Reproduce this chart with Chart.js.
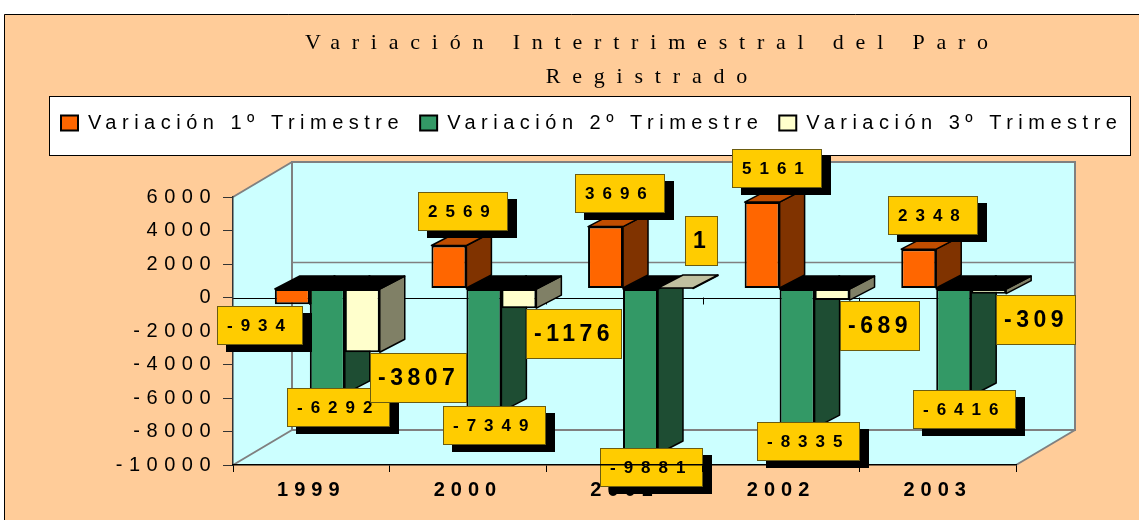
<!DOCTYPE html>
<html>
<head>
<meta charset="utf-8">
<script src="https://cdn.jsdelivr.net/npm/chart.js@4/dist/chart.umd.min.js"></script>
<style>
html,body{margin:0;padding:0;background:#fff;overflow:hidden}
canvas{display:block}
</style>
</head>
<body>
<canvas id="c" width="1139" height="520"></canvas>
<script>
// ---------- data ----------
const categories = ['1999', '2000', '2001', '2002', '2003'];
const seriesNames = ['Variación 1º Trimestre', 'Variación 2º Trimestre', 'Variación 3º Trimestre'];
const trimestre1 = [-934, 2569, 3696, 5161, 2348];
const trimestre2 = [-6292, -7349, -9881, -8335, -6416];
const trimestre3 = [-3807, -1176, 1, -689, -309];
const yAxisRange = { min: -10000, max: 6000, step: 2000 };
const titleLines = ['Variación Intertrimestral del Paro', 'Registrado'];

// ---------- styles ----------
const SANS = '"Liberation Sans", Arial, sans-serif';
const SERIF = '"Liberation Serif", "Times New Roman", serif';
const faceColors = [
  { front: '#FF6600', top: '#C04D00', side: '#803300' },
  { front: '#339966', top: '#1E4D33', side: '#1E4D33' },
  { front: '#FFFFCC', top: '#C0C0A0', side: '#808066' }
];
const WALL = { dx: 59, dy: -35 };
const SHIFT = { dx: 16, dy: -9 };
const DEPTH = { dx: 25, dy: -13 };
const LEGEND_H = 100;
const LEGEND_START = 61;
const TITLE_CENTER = 646.5;
const SP = { title: 11.8, legend: 5.5, yTicks: 6.5, xTicks: 6 };
const labelStyle = [
  { font: 'bold 17px ' + SANS, sp: 8, padX: 10, h: 39, shadow: true },
  { font: 'bold 17px ' + SANS, sp: 8, padX: 10, h: 39, shadow: true },
  { font: 'bold 23px ' + SANS, sp: 4.5, padX: 8, h: 50, shadow: false }
];

function placeLabel(di, v, r, w, h) {
  if (di === 0) {
    return v >= 0 ? { x: r.left - 13, y: r.top - 14 - h } : { x: r.left - 58, y: r.bottom + 2 };
  }
  if (di === 1) return { x: r.left - 23, y: r.bottom - 6 };
  return v > 0 ? { x: r.left + 27, y: r.top - 22 - h } : { x: r.left + 25, y: r.bottom + 1 };
}

function spaced(obj, name, sp) {
  const orig = obj && obj[name];
  if (!orig || orig.__spaced) return;
  const f = function (...a) {
    const ctx = this.ctx;
    const prev = ctx.letterSpacing;
    ctx.letterSpacing = sp + 'px';
    try { return orig.apply(this, a); } finally { ctx.letterSpacing = prev; }
  };
  f.__spaced = true;
  obj[name] = f;
}

function poly(ctx, pts, fill) {
  ctx.beginPath();
  pts.forEach((p, i) => i ? ctx.lineTo(p[0], p[1]) : ctx.moveTo(p[0], p[1]));
  ctx.closePath();
  ctx.fillStyle = fill;
  ctx.fill();
  ctx.stroke();
}

function drawFaces(chart, di) {
  const { ctx } = chart;
  const col = faceColors[di];
  const vals = chart.data.datasets[di].data;
  chart.getDatasetMeta(di).data.forEach((el, i) => {
    const { x, y, base, width } = el.getProps(['x', 'y', 'base', 'width'], true);
    const l = x - width / 2, r = x + width / 2, t = Math.min(y, base), b = Math.max(y, base);
    const neg = vals[i] < 0;
    ctx.save();
    ctx.lineWidth = 1.5; ctx.strokeStyle = '#000'; ctx.lineJoin = 'round';
    poly(ctx, [[r, t], [r + DEPTH.dx, t + DEPTH.dy], [r + DEPTH.dx, b + DEPTH.dy], [r, b]], col.side);
    poly(ctx, [[l, t], [r, t], [r + DEPTH.dx, t + DEPTH.dy], [l + DEPTH.dx, t + DEPTH.dy]], neg ? '#000' : col.top);
    ctx.restore();
  });
}

const paro3d = {
  id: 'paro3d',
  beforeLayout(chart) {
    const L = chart.legend;
    if (L && !L.__patched) {
      L.__patched = true;
      const fit = L.fit;
      L.fit = function (...a) {
        const ctx = this.ctx, prev = ctx.letterSpacing;
        ctx.letterSpacing = SP.legend + 'px';
        try { fit.apply(this, a); } finally { ctx.letterSpacing = prev; }
        this.height = LEGEND_H;
      };
      spaced(L, 'draw', SP.legend);
    }
    spaced(chart.titleBlock, 'draw', SP.title);
    spaced(chart.scales.y, 'drawLabels', SP.yTicks);
    spaced(chart.scales.x, 'drawLabels', SP.xTicks);
  },
  afterLayout(chart) {
    const T = chart.titleBlock;
    if (T) {
      const c = TITLE_CENTER + SP.title / 2, half = (T.right - T.left) / 2;
      T.left = c - half; T.right = c + half;
    }
    const L = chart.legend;
    if (L && L.lineWidths) {
      const pad = L.options.labels.padding;
      const start = (L.left + pad + L.right - L.lineWidths[0]) / 2;
      const sh = LEGEND_START - start;
      L.left += sh; L.right += sh;
    }
  },
  beforeDraw(chart) {
    const { ctx, chartArea: a, scales: { y } } = chart;
    ctx.save();
    ctx.fillStyle = '#fff';
    ctx.fillRect(0, 0, chart.width, chart.height);
    ctx.fillStyle = '#FFCC99';
    ctx.fillRect(4, 14, chart.width - 4, chart.height - 14);
    ctx.strokeStyle = '#000'; ctx.lineWidth = 1;
    ctx.beginPath(); ctx.moveTo(4.5, chart.height); ctx.lineTo(4.5, 14.5); ctx.lineTo(chart.width, 14.5); ctx.stroke();
    // legend frame
    ctx.fillStyle = '#fff';
    ctx.fillRect(49, 96, 1082, 60);
    ctx.strokeRect(49.5, 96.5, 1081, 59);
    // walls and floor
    const yTop = y.getPixelForValue(y.max), yBot = y.getPixelForValue(y.min), y0 = y.getPixelForValue(0);
    ctx.beginPath();
    ctx.moveTo(a.left, yTop);
    ctx.lineTo(a.left + WALL.dx, yTop + WALL.dy);
    ctx.lineTo(a.right + WALL.dx, yTop + WALL.dy);
    ctx.lineTo(a.right + WALL.dx, yBot + WALL.dy);
    ctx.lineTo(a.right, yBot);
    ctx.lineTo(a.left, yBot);
    ctx.closePath();
    ctx.fillStyle = '#CCFFFF';
    ctx.fill();
    ctx.strokeStyle = '#808080'; ctx.lineWidth = 2;
    ctx.strokeRect(a.left + WALL.dx, yTop + WALL.dy, a.right - a.left, yBot - yTop);
    ctx.beginPath();
    ctx.moveTo(a.left, yTop); ctx.lineTo(a.left + WALL.dx, yTop + WALL.dy);
    ctx.moveTo(a.left, yBot); ctx.lineTo(a.left + WALL.dx, yBot + WALL.dy);
    ctx.moveTo(a.right, yBot); ctx.lineTo(a.right + WALL.dx, yBot + WALL.dy);
    ctx.stroke();
    // back-wall gridlines
    ctx.lineWidth = 1.5;
    y.ticks.forEach(t => {
      if (t.value % 10000 === 0) {
        const py = y.getPixelForValue(t.value) + WALL.dy;
        ctx.beginPath(); ctx.moveTo(a.left + WALL.dx, py); ctx.lineTo(a.right + WALL.dx, py); ctx.stroke();
      }
    });
    // category axis crossing at zero
    ctx.strokeStyle = '#000'; ctx.lineWidth = 1;
    ctx.beginPath(); ctx.moveTo(a.left, Math.round(y0) + 0.5); ctx.lineTo(a.right + WALL.dx, Math.round(y0) + 0.5); ctx.stroke();
    const n = categories.length;
    for (let i = 1; i <= n; i++) {
      const bx = Math.round(a.left + i * (a.right - a.left) / n) + 0.5;
      ctx.beginPath(); ctx.moveTo(bx, y0); ctx.lineTo(bx, y0 + 7); ctx.stroke();
    }
    ctx.restore();
  },
  beforeDatasetsDraw(chart) {
    chart.ctx.save();
    chart.ctx.translate(SHIFT.dx, SHIFT.dy);
  },
  // default per-dataset drawing is replaced so that series are painted left to right
  beforeDatasetDraw() { return false; },
  afterDatasetsDraw(chart) {
    const { ctx } = chart;
    chart.data.datasets.forEach((ds, di) => {
      chart.getDatasetMeta(di).controller.draw();
      drawFaces(chart, di);
    });
    ctx.restore();
    chart.data.datasets.forEach((ds, di) => {
      const meta = chart.getDatasetMeta(di);
      const st = labelStyle[di];
      meta.data.forEach((el, i) => {
        const v = ds.data[i];
        const { x, y, base, width } = el.getProps(['x', 'y', 'base', 'width'], true);
        const r = {
          left: x - width / 2 + SHIFT.dx, right: x + width / 2 + SHIFT.dx,
          top: Math.min(y, base) + SHIFT.dy, bottom: Math.max(y, base) + SHIFT.dy
        };
        const text = String(v);
        ctx.save();
        ctx.font = st.font;
        ctx.letterSpacing = st.sp + 'px';
        const w = Math.round(ctx.measureText(text).width + 2 * st.padX);
        const p = placeLabel(di, v, r, w, st.h);
        const px = Math.round(p.x), py = Math.round(p.y);
        if (st.shadow) { ctx.fillStyle = '#000'; ctx.fillRect(px + 9, py + 7, w, st.h); }
        ctx.fillStyle = '#FFCC00';
        ctx.fillRect(px, py, w, st.h);
        ctx.strokeStyle = '#6b5c10'; ctx.lineWidth = 1;
        ctx.strokeRect(px + 0.5, py + 0.5, w - 1, st.h - 1);
        ctx.fillStyle = '#000'; ctx.textAlign = 'left'; ctx.textBaseline = 'middle';
        ctx.fillText(text, px + st.padX, py + st.h / 2 + 1);
        ctx.restore();
      });
    });
  }
};

Chart.defaults.font.family = SANS;
Chart.defaults.color = '#000';

const seriesData = [trimestre1, trimestre2, trimestre3];
new Chart(document.getElementById('c'), {
  type: 'bar',
  data: {
    labels: categories,
    datasets: seriesData.map((d, i) => ({
      label: seriesNames[i],
      data: d,
      backgroundColor: faceColors[i].front,
      borderColor: '#000',
      borderWidth: 2,
      borderSkipped: false,
      yAxisID: 'y',
      clip: false
    }))
  },
  options: {
    responsive: false,
    animation: false,
    devicePixelRatio: 1,
    events: [],
    layout: { padding: 0 },
    datasets: { bar: { categoryPercentage: 0.67, barPercentage: 1 } },
    plugins: {
      title: {
        display: true, text: titleLines, color: '#000',
        font: { family: SERIF, size: 22, weight: 'normal', lineHeight: '34px' },
        padding: { top: 26, bottom: 3 }
      },
      legend: {
        display: true, position: 'top',
        labels: {
          color: '#000', font: { family: SANS, size: 20 },
          boxWidth: 17, boxHeight: 15, padding: 16
        }
      },
      tooltip: { enabled: false }
    },
    scales: {
      x: {
        position: 'bottom',
        grid: { display: true, drawOnChartArea: false, drawTicks: true, tickLength: 7, color: '#000', offset: true, z: 1 },
        border: { display: true, color: '#000', width: 1.5, z: 1 },
        ticks: { color: '#000', font: { family: SANS, size: 20, weight: 'bold' }, padding: 6, maxRotation: 0, autoSkip: false },
        afterFit(s) { s.height = 55; }
      },
      y: {
        position: 'left',
        min: yAxisRange.min, max: yAxisRange.max,
        ticks: { stepSize: yAxisRange.step, color: '#000', font: { family: SANS, size: 20 }, padding: 6, callback: v => String(v) },
        grid: { drawOnChartArea: false, tickLength: 10, color: '#333' },
        border: { color: '#333', width: 1.5 },
        afterFit(s) { s.width = 233; }
      },
      pad: {
        type: 'linear', position: 'right', display: true,
        grid: { display: false }, border: { display: false }, ticks: { display: false },
        afterFit(s) { s.width = 123; }
      }
    }
  },
  plugins: [paro3d]
});
</script>
</body>
</html>
